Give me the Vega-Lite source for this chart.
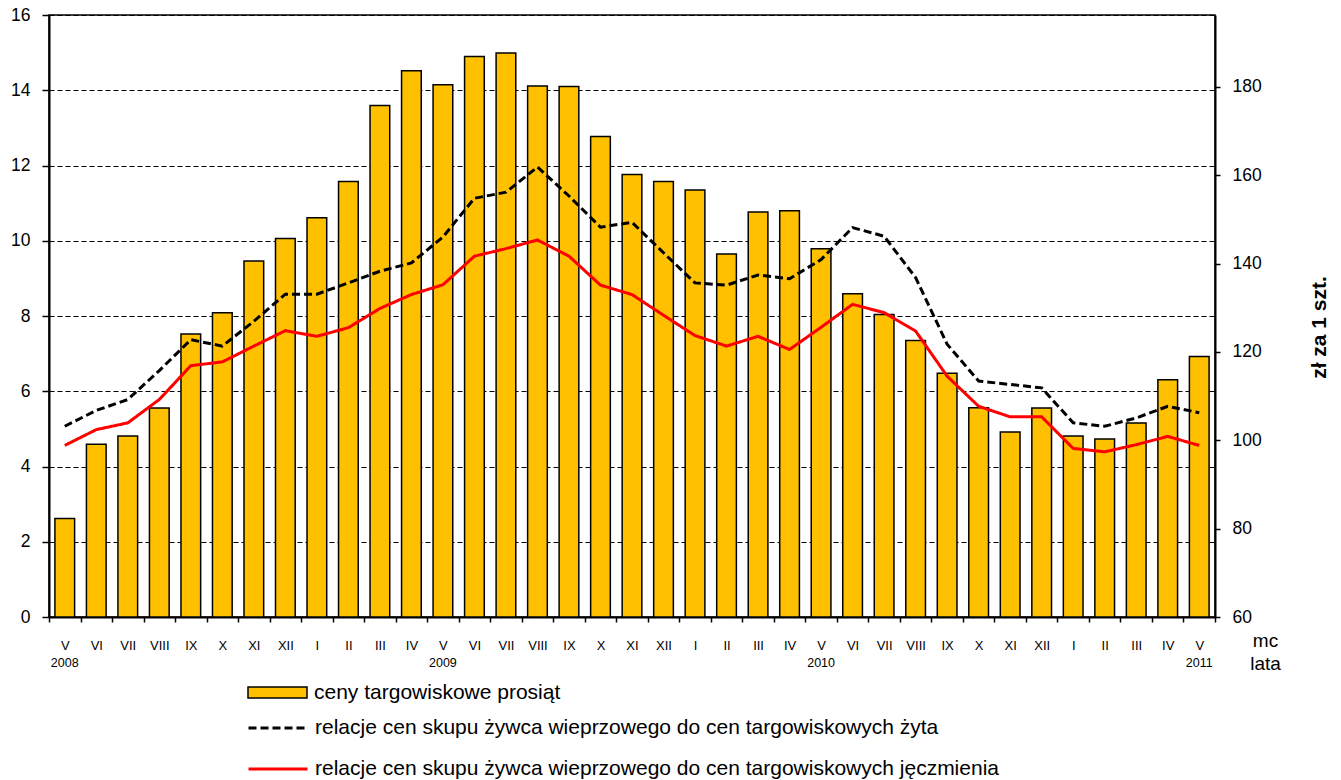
{
  "$schema": "https://vega.github.io/schema/vega-lite/v6.json",
  "autosize": {"type": "none"},
  "padding": {"left": 49, "top": 15, "right": 126, "bottom": 163},
  "width": 1166,
  "height": 602,
  "background": "white",
  "config": {
    "font": "Liberation Sans",
    "view": {"stroke": "black", "strokeWidth": 1.5},
    "axis": {
      "domainColor": "black",
      "domainWidth": 2,
      "tickColor": "black",
      "tickWidth": 1.5,
      "labelColor": "black",
      "titleColor": "black",
      "labelFont": "Liberation Sans",
      "titleFont": "Liberation Sans"
    },
    "legend": {
      "labelFont": "Liberation Sans",
      "labelColor": "black",
      "labelFontSize": 21,
      "labelLimit": 2000,
      "padding": 0,
      "offset": 0
    }
  },
  "data": {
    "values": [
      {"okres": "V 2008", "cena": 82.3, "zyto": 5.07, "jeczmien": 4.56},
      {"okres": "VI 2008", "cena": 99.1, "zyto": 5.49, "jeczmien": 4.98},
      {"okres": "VII 2008", "cena": 101.0, "zyto": 5.78, "jeczmien": 5.16},
      {"okres": "VIII 2008", "cena": 107.3, "zyto": 6.55, "jeczmien": 5.78},
      {"okres": "IX 2008", "cena": 124.1, "zyto": 7.37, "jeczmien": 6.68},
      {"okres": "X 2008", "cena": 128.9, "zyto": 7.2, "jeczmien": 6.78},
      {"okres": "XI 2008", "cena": 140.6, "zyto": 7.86, "jeczmien": 7.2},
      {"okres": "XII 2008", "cena": 145.7, "zyto": 8.58, "jeczmien": 7.61},
      {"okres": "I 2009", "cena": 150.4, "zyto": 8.58, "jeczmien": 7.46},
      {"okres": "II 2009", "cena": 158.6, "zyto": 8.88, "jeczmien": 7.69},
      {"okres": "III 2009", "cena": 175.8, "zyto": 9.19, "jeczmien": 8.2},
      {"okres": "IV 2009", "cena": 183.7, "zyto": 9.41, "jeczmien": 8.57},
      {"okres": "V 2009", "cena": 180.5, "zyto": 10.1, "jeczmien": 8.83},
      {"okres": "VI 2009", "cena": 186.9, "zyto": 11.13, "jeczmien": 9.59},
      {"okres": "VII 2009", "cena": 187.7, "zyto": 11.29, "jeczmien": 9.79},
      {"okres": "VIII 2009", "cena": 180.2, "zyto": 11.96, "jeczmien": 10.02},
      {"okres": "IX 2009", "cena": 180.1, "zyto": 11.19, "jeczmien": 9.59},
      {"okres": "X 2009", "cena": 168.8, "zyto": 10.36, "jeczmien": 8.82},
      {"okres": "XI 2009", "cena": 160.2, "zyto": 10.49, "jeczmien": 8.57},
      {"okres": "XII 2009", "cena": 158.6, "zyto": 9.68, "jeczmien": 8.02},
      {"okres": "I 2010", "cena": 156.7, "zyto": 8.88, "jeczmien": 7.48},
      {"okres": "II 2010", "cena": 142.2, "zyto": 8.82, "jeczmien": 7.2},
      {"okres": "III 2010", "cena": 151.7, "zyto": 9.09, "jeczmien": 7.46},
      {"okres": "IV 2010", "cena": 152.0, "zyto": 8.99, "jeczmien": 7.11},
      {"okres": "V 2010", "cena": 143.4, "zyto": 9.5, "jeczmien": 7.7},
      {"okres": "VI 2010", "cena": 133.2, "zyto": 10.35, "jeczmien": 8.31},
      {"okres": "VII 2010", "cena": 128.5, "zyto": 10.12, "jeczmien": 8.09},
      {"okres": "VIII 2010", "cena": 122.6, "zyto": 9.02, "jeczmien": 7.6},
      {"okres": "IX 2010", "cena": 115.2, "zyto": 7.25, "jeczmien": 6.4},
      {"okres": "X 2010", "cena": 107.4, "zyto": 6.27, "jeczmien": 5.6},
      {"okres": "XI 2010", "cena": 101.9, "zyto": 6.18, "jeczmien": 5.32},
      {"okres": "XII 2010", "cena": 107.3, "zyto": 6.09, "jeczmien": 5.32},
      {"okres": "I 2011", "cena": 101.0, "zyto": 5.16, "jeczmien": 4.48},
      {"okres": "II 2011", "cena": 100.3, "zyto": 5.07, "jeczmien": 4.39},
      {"okres": "III 2011", "cena": 103.9, "zyto": 5.29, "jeczmien": 4.58},
      {"okres": "IV 2011", "cena": 113.7, "zyto": 5.6, "jeczmien": 4.8},
      {"okres": "V 2011", "cena": 119.0, "zyto": 5.43, "jeczmien": 4.56}
    ]
  },
  "layer": [
    {
      "mark": {"type": "bar", "stroke": "black", "strokeWidth": 1.5, "width": {"band": 0.625}},
      "encoding": {
        "x": {
          "field": "okres",
          "type": "nominal",
          "sort": null,
          "scale": {"paddingInner": 0, "paddingOuter": 0},
          "axis": {
            "orient": "bottom",
            "tickBand": "extent",
            "tickSize": 5,
            "labelAngle": 0,
            "labelFontSize": 13,
            "labelPadding": 17,
            "labelOverlap": false,
            "labelBound": false,
            "labelExpr": "isString(datum.value) ? split(datum.value, ' ')[0] : ''",
            "title": ["mc", "lata"],
            "titleFontSize": 19,
            "titleFontWeight": "normal",
            "titleX": 1216,
            "titleY": 29,
            "titleAlign": "center",
            "titleBaseline": "alphabetic",
            "titleLineHeight": 23
          }
        },
        "y": {
          "field": "cena",
          "type": "quantitative",
          "scale": {"domain": [60, 196.3], "nice": false, "zero": false},
          "axis": {
            "orient": "right",
            "values": [60, 80, 100, 120, 140, 160, 180],
            "grid": false,
            "tickSize": 5,
            "labelFontSize": 17.5,
            "labelPadding": 12,
            "title": "zł za 1 szt.",
            "titleFontSize": 21,
            "titleFontWeight": "bold",
            "titleAngle": 270,
            "titleX": 104,
            "titleY": 312,
            "titleAlign": "center",
            "titleBaseline": "middle"
          }
        },
        "y2": {"datum": 60},
        "fill": {
          "datum": "ceny targowiskowe prosiąt",
          "type": "nominal",
          "scale": {"range": ["#FFC000"]},
          "legend": {
            "title": null,
            "orient": "none",
            "direction": "vertical",
            "legendX": 198,
            "legendY": 647,
            "symbolType": "M-1,-0.186H1V0.186H-1Z",
            "symbolSize": 3481,
            "symbolStrokeColor": "black",
            "symbolStrokeWidth": 1.5,
            "symbolOpacity": 1,
            "labelOffset": 6
          }
        }
      }
    },
    {
      "transform": [{"fold": ["zyto", "jeczmien"], "as": ["seria", "wartosc"]}],
      "mark": {"type": "line", "strokeWidth": 3},
      "encoding": {
        "x": {
          "field": "okres",
          "type": "nominal",
          "sort": null,
          "axis": {
            "orient": "bottom",
            "domain": false,
            "ticks": false,
            "tickSize": 0,
            "labelAngle": 0,
            "labelFontSize": 12.5,
            "labelPadding": 39,
            "labelOverlap": false,
            "labelBound": false,
            "labelExpr": "isString(datum.value) && split(datum.value, ' ')[0] == 'V' ? split(datum.value, ' ')[1] : ''",
            "title": null
          }
        },
        "y": {
          "field": "wartosc",
          "type": "quantitative",
          "scale": {"domain": [0, 16], "nice": false},
          "axis": {
            "orient": "left",
            "values": [0, 2, 4, 6, 8, 10, 12, 14, 16],
            "grid": true,
            "gridColor": "black",
            "gridDash": [5, 3],
            "gridWidth": 1,
            "gridOpacity": 1,
            "tickSize": 7,
            "labelFontSize": 17.5,
            "labelPadding": 12,
            "title": null
          }
        },
        "stroke": {
          "field": "seria",
          "type": "nominal",
          "scale": {"domain": ["zyto", "jeczmien"], "range": ["black", "#FF0000"]},
          "legend": {
            "title": null,
            "orient": "none",
            "direction": "vertical",
            "legendX": 198,
            "legendY": 682,
            "symbolType": "stroke",
            "symbolSize": 3481,
            "symbolStrokeWidth": 3,
            "rowPadding": -26,
            "labelOffset": 6,
            "labelExpr": "datum.value == 'zyto' ? 'relacje cen skupu żywca wieprzowego do cen targowiskowych żyta' : 'relacje cen skupu żywca wieprzowego do cen targowiskowych jęczmienia'"
          }
        },
        "strokeDash": {
          "field": "seria",
          "type": "nominal",
          "scale": {"domain": ["zyto", "jeczmien"], "range": [[8, 4], [1, 0]]},
          "legend": {
            "title": null,
            "orient": "none",
            "direction": "vertical",
            "legendX": 198,
            "legendY": 682,
            "symbolType": "stroke",
            "symbolSize": 3481,
            "symbolStrokeWidth": 3,
            "rowPadding": -26,
            "labelOffset": 6,
            "labelExpr": "datum.value == 'zyto' ? 'relacje cen skupu żywca wieprzowego do cen targowiskowych żyta' : 'relacje cen skupu żywca wieprzowego do cen targowiskowych jęczmienia'"
          }
        }
      }
    }
  ],
  "resolve": {"scale": {"y": "independent"}, "axis": {"x": "independent"}}
}
